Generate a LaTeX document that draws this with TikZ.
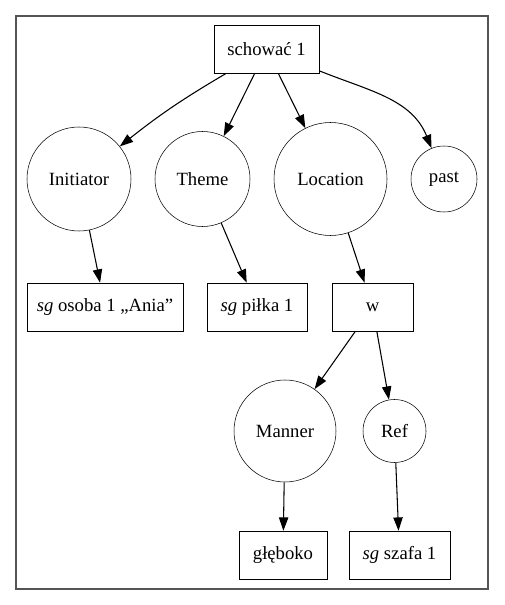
\documentclass[tikz,border=0pt]{standalone}
\usepackage{fontspec}
\setmainfont{Liberation Serif}
\usetikzlibrary{arrows.meta}
\definecolor{ramka}{RGB}{85,85,85}

\begin{document}
\begin{tikzpicture}[
    x=0.75pt, y=-0.75pt,
    lemma/.style={draw, rectangle, minimum height=36pt, inner sep=0pt, font=\fontsize{14}{16}\selectfont},
    role/.style={draw, circle, inner sep=0pt, font=\fontsize{14}{16}\selectfont},
    edge/.style={line width=0.8pt, -{Triangle[length=10pt,width=7pt]}},
    frame/.style={draw=ramka, line width=1.1pt}
]
\useasboundingbox (0,0) rectangle (504,605);
\draw[frame] (16,16) rectangle (488,589);

\node[lemma, minimum width=78.75pt] (schowac) at (266.5,49.5) {schować 1};

\node[role, minimum size=78pt] (initiator) at (79,179) {Initiator};
\node[role, minimum size=71.25pt] (theme) at (202.5,179) {Theme};
\node[role, minimum size=84.75pt] (location) at (330.5,179) {Location};
\node[role, minimum size=49.5pt] (past) at (444,179) {past};

\node[lemma, minimum width=117pt] (osoba) at (105,307) {\textit{sg} osoba 1 „Ania”};
\node[lemma, minimum width=75pt] (pilka) at (257,307) {\textit{sg} piłka 1};
\node[lemma, minimum width=60.75pt] (w) at (372.5,307) {w};

\node[role, minimum size=76.5pt] (manner) at (285,431) {Manner};
\node[role, minimum size=47.25pt] (ref) at (394.5,431) {Ref};

\node[lemma, minimum width=66pt] (gleboko) at (283,555) {głęboko};
\node[lemma, minimum width=75.75pt] (szafa) at (399.5,555) {\textit{sg} szafa 1};

% krawedzie
\draw[edge] (schowac) to[bend right=4] (initiator);
\draw[edge] (schowac) -- (theme);
\draw[edge] (schowac) -- (location);
\draw[edge] (schowac) to[out=-22, in=112] (past);
\draw[edge] (initiator) -- (osoba);
\draw[edge] (theme) -- (pilka);
\draw[edge] (location) -- (w);
\draw[edge] (w) -- (manner);
\draw[edge] (w) -- (ref);
\draw[edge] (manner) -- (gleboko);
\draw[edge] (ref) -- (szafa);
\end{tikzpicture}
\end{document}
